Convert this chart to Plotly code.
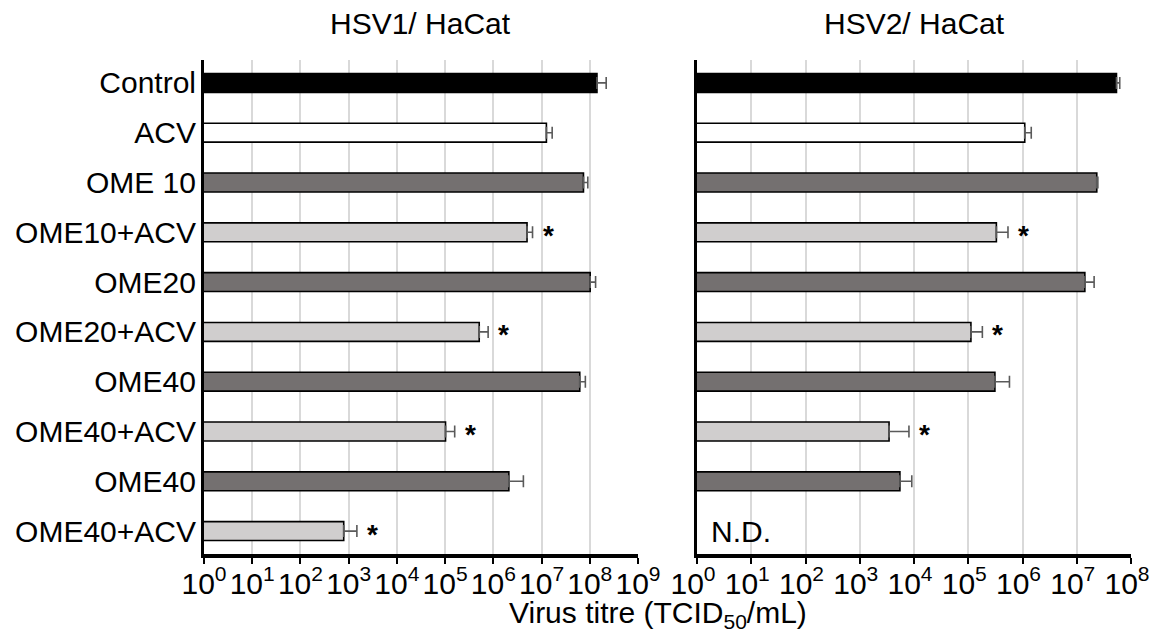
import math
import plotly.graph_objects as go

# ---------------- data ----------------
categories = ["Control", "ACV", "OME 10", "OME10+ACV", "OME20", "OME20+ACV",
              "OME40", "OME40+ACV", "OME40", "OME40+ACV"]
bar_colors = ["#000000", "#ffffff", "#747070", "#d0cece", "#747070", "#d0cece",
              "#747070", "#d0cece", "#747070", "#d0cece"]

# HSV1 / HaCat  (TCID50/mL)
hsv1_titre = [1.41e8, 1.26e7, 7.4e7, 5.0e6, 1.02e8, 5.1e5, 6.2e7, 1.02e5, 2.1e6, 7.9e2]
hsv1_err = [7.8e7, 4.0e6, 1.7e7, 1.5e6, 3.0e7, 2.7e5, 1.9e7, 5.6e4, 2.1e6, 6.9e2]
hsv1_sig = [False, False, False, True, False, True, False, True, False, True]

# HSV2 / HaCat  (TCID50/mL); last group not detected
hsv2_titre = [5.4e7, 1.1e6, 2.34e7, 3.3e5, 1.41e7, 1.12e5, 3.1e5, 3.47e3, 5.5e3, None]
hsv2_err = [8.0e6, 3.5e5, 1.1e6, 2.1e5, 6.8e6, 7.0e4, 2.65e5, 4.6e3, 3.6e3, None]
hsv2_sig = [False, False, False, True, False, True, False, True, False, False]
hsv2_nd = [False, False, False, False, False, False, False, False, False, True]

hsv1_exponents = [0, 1, 2, 3, 4, 5, 6, 7, 8, 9]
hsv2_exponents = [0, 1, 2, 3, 4, 5, 6, 7, 8]

panel_titles = ["HSV1/ HaCat", "HSV2/ HaCat"]
x_title = "Virus titre (TCID<sub>50</sub>/mL)"

# ---------------- figure ----------------
OFF = 8                      # page body margin
W, H = 1158 - OFF, 638 - OFF
FONT = "Liberation Sans, Arial, Helvetica, sans-serif"
rows = list(range(len(categories)))


def px_x(p):
    return (p - OFF) / W


def px_y(p):
    return 1 - (p - OFF) / H


fig = go.Figure()

panels = [
    dict(titre=hsv1_titre, err=hsv1_err, sig=hsv1_sig, nd=None, xa="x", ya="y"),
    dict(titre=hsv2_titre, err=hsv2_err, sig=hsv2_sig, nd=hsv2_nd, xa="x2", ya="y2"),
]

for p in panels:
    fig.add_trace(go.Bar(
        x=p["titre"], y=rows, orientation="h",
        marker=dict(color=bar_colors, line=dict(color="black", width=1.6)),
        width=0.38,
        error_x=dict(type="data", array=p["err"], arrayminus=[0] * len(rows),
                     symmetric=False, color="#5a5a5a", thickness=1.6, width=6),
        xaxis=p["xa"], yaxis=p["ya"], showlegend=False, hoverinfo="x+y",
    ))

annotations = []
for p in panels:
    for r, (v, e, s) in enumerate(zip(p["titre"], p["err"], p["sig"])):
        if s and v is not None:
            annotations.append(dict(
                x=math.log10(v + e), y=r, xref=p["xa"], yref=p["ya"],
                text="<b>*</b>", showarrow=False, xanchor="left", yanchor="middle",
                xshift=8, yshift=-3, font=dict(size=28, color="black", family=FONT)))
    if p["nd"]:
        for r, flag in enumerate(p["nd"]):
            if flag:
                annotations.append(dict(
                    x=0.22, y=r, xref=p["xa"], yref=p["ya"], text="N.D.",
                    showarrow=False, xanchor="left", yanchor="middle",
                    font=dict(size=30, color="black", family=FONT)))

left_dom = [px_x(204), px_x(638)]
right_dom = [px_x(697), px_x(1131)]
y_dom = [px_y(554), px_y(60)]

for dom, t in zip([left_dom, right_dom], panel_titles):
    annotations.append(dict(
        x=(dom[0] + dom[1]) / 2, y=px_y(23), xref="paper", yref="paper",
        text=t, showarrow=False, xanchor="center", yanchor="middle",
        font=dict(size=30, color="black", family=FONT)))

annotations.append(dict(
    x=px_x(658), y=px_y(614), xref="paper", yref="paper", text=x_title,
    showarrow=False, xanchor="center", yanchor="middle",
    font=dict(size=30, color="black", family=FONT)))

# cropped panel letter at top-left
annotations.append(dict(
    x=px_x(70), y=px_y(5), xref="paper", yref="paper", text="<b>g</b>",
    showarrow=False, xanchor="center", yanchor="bottom",
    font=dict(size=44, color="black", family=FONT)))


def xaxis_cfg(dom, exps, anchor, shift):
    return dict(
        type="log", range=[exps[0], exps[-1]], domain=dom, anchor=anchor,
        tickvals=[10 ** e for e in exps],
        ticktext=[f"10<sup>{e}</sup>" for e in exps],
        tickangle=0, ticks="outside", ticklen=6, tickwidth=2, tickcolor="black",
        ticklabelstandoff=-6, ticklabelshift=shift,
        showline=True, linewidth=4, linecolor="black",
        showgrid=True, gridcolor="#d9d9d9", gridwidth=1.5, zeroline=False,
        automargin=False, tickfont=dict(size=30, color="black", family=FONT),
        fixedrange=True,
    )


def yaxis_cfg(anchor, labels):
    return dict(
        domain=y_dom, anchor=anchor, range=[len(rows) - 1 + 0.46, -0.46],
        tickvals=rows, ticktext=categories, showticklabels=labels, ticks="",
        ticklabelstandoff=-1,
        showline=True, linewidth=3, linecolor="black", showgrid=False,
        zeroline=False, automargin=False,
        tickfont=dict(size=30, color="black", family=FONT), fixedrange=True,
    )


fig.update_layout(
    width=W, height=H, margin=dict(l=0, r=0, t=0, b=0),
    paper_bgcolor="white", plot_bgcolor="white",
    font=dict(family=FONT, size=30, color="black"),
    showlegend=False, barmode="overlay",
    xaxis=xaxis_cfg(left_dom, hsv1_exponents, "y", 0),
    xaxis2=xaxis_cfg(right_dom, hsv2_exponents, "y2", -4),
    yaxis=yaxis_cfg("x", True),
    yaxis2=yaxis_cfg("x2", False),
    annotations=annotations,
)

fig.write_html("out.html")
